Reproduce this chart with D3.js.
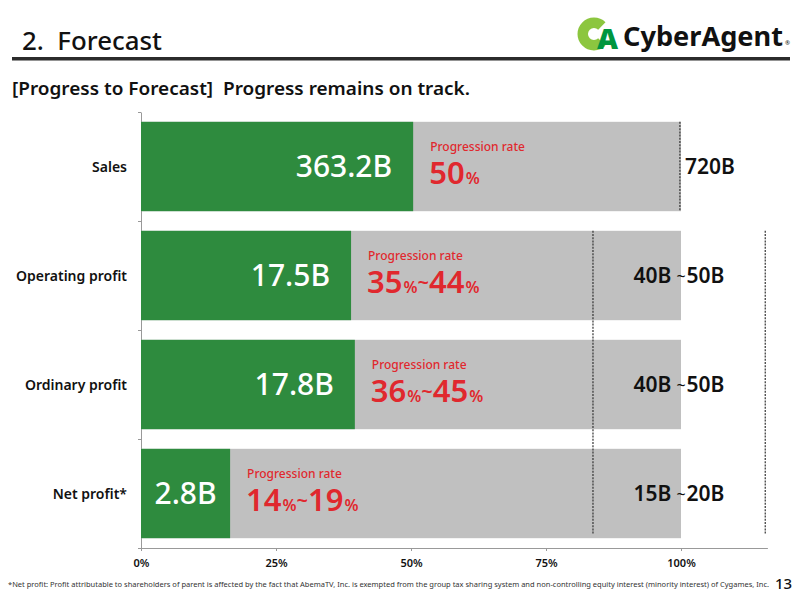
<!DOCTYPE html>
<html lang="en">
<head>
  <meta charset="UTF-8">
  <title>Forecast progress</title>
  <script src="https://cdn.jsdelivr.net/npm/d3@7"></script>
  <style>
    html, body { margin: 0; background: #fff; }
    svg { display: block; font-family: "Noto Sans", Lato, sans-serif; }
  </style>
</head>
<body>
  <script>
    // values
    var categories = ['Sales', 'Operating profit', 'Ordinary profit', 'Net profit*'];
    var progress = [0.504, 0.389, 0.396, 0.165];
    var progressLabels = ['363.2B', '17.5B', '17.8B', '2.8B'];
    var rateLow = [50, 35, 36, 14];
    var rateHigh = [null, 44, 45, 19];
    var forecastLow = ['720B', '40B', '40B', '15B'];
    var forecastHigh = [null, '50B', '50B', '20B'];
    var salesGuide = 0.998;
    var profitGuides = [0.837, 1.156];
    var xTicks = [0, 0.25, 0.5, 0.75, 1];

    var W = 800, H = 600;
    var green = '#2e8b3e', grey = '#c0c0c0', red = '#e0282e';

    var svg = d3.select('body').append('svg')
      .attr('width', W)
      .attr('height', H);

    // header
    svg.append('text').attr('x', 22).attr('y', 50)
      .attr('font-size', 25).attr('font-weight', 500).attr('fill', '#111')
      .attr('xml:space', 'preserve')
      .attr('textLength', 140).attr('lengthAdjust', 'spacingAndGlyphs')
      .text('2.  Forecast');
    svg.append('rect').attr('x', 12).attr('y', 57).attr('width', 778).attr('height', 3.5)
      .attr('fill', '#2b2b2b');

    // logo: C drawn as a ring arc, A as text
    var logo = svg.append('g');
    logo.append('path')
      .attr('transform', 'translate(594,34)')
      .attr('d', d3.arc()({
        innerRadius: 6, outerRadius: 16.5,
        startAngle: Math.PI / 2 + 0.8, endAngle: Math.PI / 2 + 2 * Math.PI - 0.8
      }))
      .attr('fill', '#8cc63f');
    logo.append('text').attr('x', 597).attr('y', 49)
      .attr('font-size', 29).attr('font-weight', 900).attr('fill', '#00963f')
      .text('A');
    logo.append('text').attr('x', 623).attr('y', 46)
      .attr('font-size', 27).attr('font-weight', 700).attr('fill', '#111')
      .attr('textLength', 160).attr('lengthAdjust', 'spacingAndGlyphs')
      .text('CyberAgent');
    logo.append('text').attr('x', 785).attr('y', 45)
      .attr('font-size', 6).attr('fill', '#111').text('®');

    svg.append('text').attr('x', 12).attr('y', 95)
      .attr('font-size', 18).attr('font-weight', 600).attr('fill', '#111')
      .attr('xml:space', 'preserve')
      .attr('textLength', 458).attr('lengthAdjust', 'spacingAndGlyphs')
      .text('[Progress to Forecast]  Progress remains on track.');

    // scales
    var x = d3.scaleLinear().domain([0, 1.16]).range([141, 767.4]);
    var y = d3.scaleBand().domain(categories).range([112, 548])
      .paddingInner(0.18).paddingOuter(0.09);

    // axes
    var xAxis = svg.append('g')
      .attr('transform', 'translate(0,548)')
      .call(d3.axisBottom(x).tickValues(xTicks).tickSize(3).tickSizeOuter(0)
        .tickFormat(d3.format('.0%')));
    xAxis.select('.domain').attr('stroke', '#999');
    xAxis.selectAll('.tick line').attr('stroke', '#999');
    xAxis.selectAll('.tick text')
      .attr('font-size', 11).attr('font-weight', 600).attr('fill', '#111')
      .attr('font-family', '"Noto Sans", sans-serif').attr('dy', '1.2em');

    var yAxis = svg.append('g')
      .attr('transform', 'translate(141,0)')
      .call(d3.axisLeft(d3.scaleLinear().domain([0, 4]).range([548, 112]))
        .ticks(4).tickSize(3).tickSizeOuter(0).tickFormat(''));
    yAxis.select('.domain').attr('stroke', '#999');
    yAxis.selectAll('.tick line').attr('stroke', '#999');

    svg.selectAll('.cat')
      .data(categories)
      .enter().append('text')
      .attr('class', 'cat')
      .attr('x', 127)
      .attr('y', function (d) { return y(d) + y.bandwidth() / 2 + 5; })
      .attr('text-anchor', 'end')
      .attr('font-size', 14).attr('font-weight', 600).attr('fill', '#111')
      .text(function (d) { return d; });

    // bars
    var rows = svg.selectAll('.row')
      .data(categories)
      .enter().append('g')
      .attr('class', 'row')
      .attr('transform', function (d) { return 'translate(0,' + y(d) + ')'; });

    rows.append('rect')
      .attr('x', x(0)).attr('width', x(1) - x(0))
      .attr('height', y.bandwidth())
      .attr('fill', grey);

    rows.append('rect')
      .attr('x', x(0))
      .attr('width', function (d, i) { return x(progress[i]) - x(0); })
      .attr('height', y.bandwidth())
      .attr('fill', green);

    rows.append('text')
      .attr('x', function (d, i) {
        var w = x(progress[i]) - x(0);
        return w > 150 ? x(progress[i]) - 21 : (x(0) + x(progress[i])) / 2;
      })
      .attr('text-anchor', function (d, i) {
        return x(progress[i]) - x(0) > 150 ? 'end' : 'middle';
      })
      .attr('y', y.bandwidth() / 2 + 11)
      .attr('font-size', 30).attr('font-weight', 500).attr('fill', '#fff')
      .text(function (d, i) { return progressLabels[i]; });

    // progression rate
    rows.append('text')
      .attr('x', function (d, i) { return x(progress[i]) + 17; })
      .attr('y', 29)
      .attr('font-size', 12).attr('font-weight', 500).attr('fill', red)
      .text('Progression rate');

    var rate = rows.append('text')
      .attr('x', function (d, i) { return x(progress[i]) + 16; })
      .attr('y', 62)
      .attr('font-weight', 600).attr('fill', red);
    rate.append('tspan').attr('font-size', 31)
      .text(function (d, i) { return rateLow[i]; });
    rate.append('tspan').attr('font-size', 16).attr('dx', 1).text('%');
    rate.filter(function (d, i) { return rateHigh[i] != null; })
      .each(function (d) {
        var i = categories.indexOf(d);
        var t = d3.select(this);
        t.append('tspan').attr('font-size', 20).attr('dy', -3).text('~');
        t.append('tspan').attr('font-size', 31).attr('dy', 3).text(rateHigh[i]);
        t.append('tspan').attr('font-size', 16).attr('dx', 1).text('%');
      });

    // forecast labels
    var fc = rows.append('text')
      .attr('x', function (d, i) { return forecastHigh[i] ? x(1) - 2 : x(1) + 4; })
      .attr('text-anchor', function (d, i) { return forecastHigh[i] ? 'middle' : 'start'; })
      .attr('y', y.bandwidth() / 2 + 8)
      .attr('font-size', 21).attr('font-weight', 600).attr('fill', '#111');
    fc.append('tspan').text(function (d, i) { return forecastLow[i]; });
    fc.filter(function (d, i) { return forecastHigh[i] != null; })
      .each(function (d) {
        var i = categories.indexOf(d);
        var t = d3.select(this);
        t.append('tspan').attr('font-size', 16).attr('font-weight', 400)
          .attr('dx', 5).attr('dy', -1).text('~');
        t.append('tspan').attr('dx', 1).attr('dy', 1).text(forecastHigh[i]);
      });

    // dashed guides
    var dash = '2,1.2';
    svg.append('line')
      .attr('x1', x(salesGuide)).attr('x2', x(salesGuide))
      .attr('y1', y(categories[0])).attr('y2', y(categories[0]) + y.bandwidth())
      .attr('stroke', '#333').attr('stroke-width', 1.2).attr('stroke-dasharray', dash);
    svg.selectAll('.guide')
      .data(profitGuides)
      .enter().append('line')
      .attr('class', 'guide')
      .attr('x1', function (d) { return x(d); })
      .attr('x2', function (d) { return x(d); })
      .attr('y1', y(categories[1]))
      .attr('y2', y(categories[3]) + y.bandwidth() - 4)
      .attr('stroke', '#333').attr('stroke-width', 1.2).attr('stroke-dasharray', dash);

    // footnote
    svg.append('text').attr('x', 8).attr('y', 587)
      .attr('font-size', 7.6).attr('fill', '#333')
      .attr('textLength', 761).attr('lengthAdjust', 'spacingAndGlyphs')
      .text('*Net profit: Profit attributable to shareholders of parent is affected by the fact that AbemaTV, Inc. is exempted from the group tax sharing system and non-controlling equity interest (minority interest) of Cygames, Inc.');
    svg.append('text').attr('x', 775).attr('y', 589)
      .attr('font-size', 15).attr('font-weight', 500).attr('fill', '#111')
      .text('13');
  </script>
</body>
</html>
